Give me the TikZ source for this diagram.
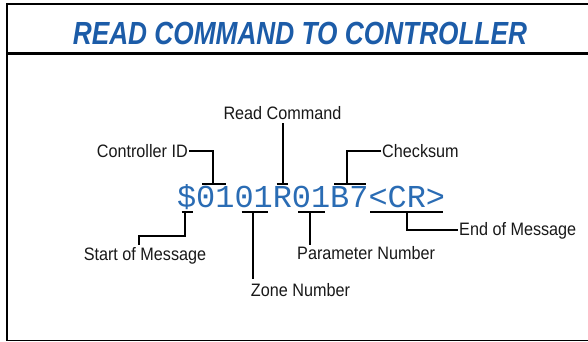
\documentclass[tikz,border=0pt]{standalone}
\usepackage{fontspec}
\setmainfont{Liberation Sans}
\newfontfamily\titlefont[FakeStretch=0.82]{Liberation Sans}
\newfontfamily\lblfont[FakeStretch=0.9]{Liberation Sans}
\newfontfamily\codefont{Liberation Mono}
\definecolor{ttlblue}{RGB}{28,92,168}
\definecolor{cmdblue}{RGB}{42,108,180}
\begin{document}
\begin{tikzpicture}[x=1pt,y=-1pt,
  lbl/.style={font=\lblfont\fontsize{18}{18}\selectfont, inner sep=0pt, text=black!90},
  conn/.style={line width=2pt, line cap=butt, line join=miter},
  bar/.style={line width=2pt}]
\useasboundingbox (0,0) rectangle (588,342);
\fill[white] (0,0) rectangle (588,342);
% frame
\draw[line width=2pt] (6,4) -- (588,4);
\draw[line width=3pt] (7,53.5) -- (588,53.5);
\draw[line width=1.5pt] (7,340.5) -- (588,340.5);
\draw[line width=2.5pt] (7,3) -- (7,341.2);
% title
\node[anchor=base, inner sep=0pt, text=ttlblue,
  font=\titlefont\bfseries\itshape\fontsize{32}{32}\selectfont] (title) at (300,45) {READ COMMAND TO CONTROLLER};
% command string
\node[anchor=base west, inner sep=0pt, text=cmdblue,
  font=\codefont\fontsize{31.9}{32}\selectfont] (cmd) at (176.9,207) {\$0101R01B7<CR>};
% labels
\node[lbl, anchor=base east] (ctrl) at (188,157) {Controller ID};
\node[lbl, anchor=base] (read) at (282.5,120) {Read Command};
\node[lbl, anchor=base west] (chk) at (382,157.3) {Checksum};
\node[lbl, anchor=base west] (eom) at (459,235) {End of Message};
\node[lbl, anchor=base west] (par) at (297,259.3) {Parameter Number};
\node[lbl, anchor=base] (som) at (145,260) {Start of Message};
\node[lbl, anchor=base west] (zone) at (250.7,296.7) {Zone Number};
% bracket anchor points
\coordinate (b1) at (213,184.3);
\coordinate (b2) at (282.5,184.3);
\coordinate (b3) at (346.5,184.3);
\coordinate (b4) at (406.7,211.7);
\coordinate (b5) at (310,211.7);
\coordinate (b6) at (185,211.7);
\coordinate (b7) at (252.7,211.7);
% bars
\draw[bar] (202,184.3) -- (226,184.3);
\draw[bar] (276.7,184.3) -- (288.3,184.3);
\draw[bar] (334,184.3) -- (366,184.3);
\draw[bar] (181.7,211.7) -- (192.7,211.7);
\draw[bar] (241.7,211.7) -- (267.7,211.7);
\draw[bar] (298,211.7) -- (325,211.7);
\draw[bar] (370,211.7) -- (442.7,211.7);
% connectors
\draw[conn] ([xshift=1pt]ctrl.east) -| (b1);
\draw[conn] ([yshift=-3pt]read.south) -- (b2);
\draw[conn] ([xshift=-1pt]chk.west) -| (b3);
\draw[conn] (b4) |- ([xshift=-1pt]eom.west);
\coordinate (e5) at (310,245);
\draw[conn] (b5) -- (e5);
\coordinate (e6) at (138.7,245);
\draw[conn] (b6) -- (185,236) -| (e6);
\coordinate (e7) at (252.7,279.3);
\draw[conn] (b7) -- (e7);
\end{tikzpicture}
\end{document}
